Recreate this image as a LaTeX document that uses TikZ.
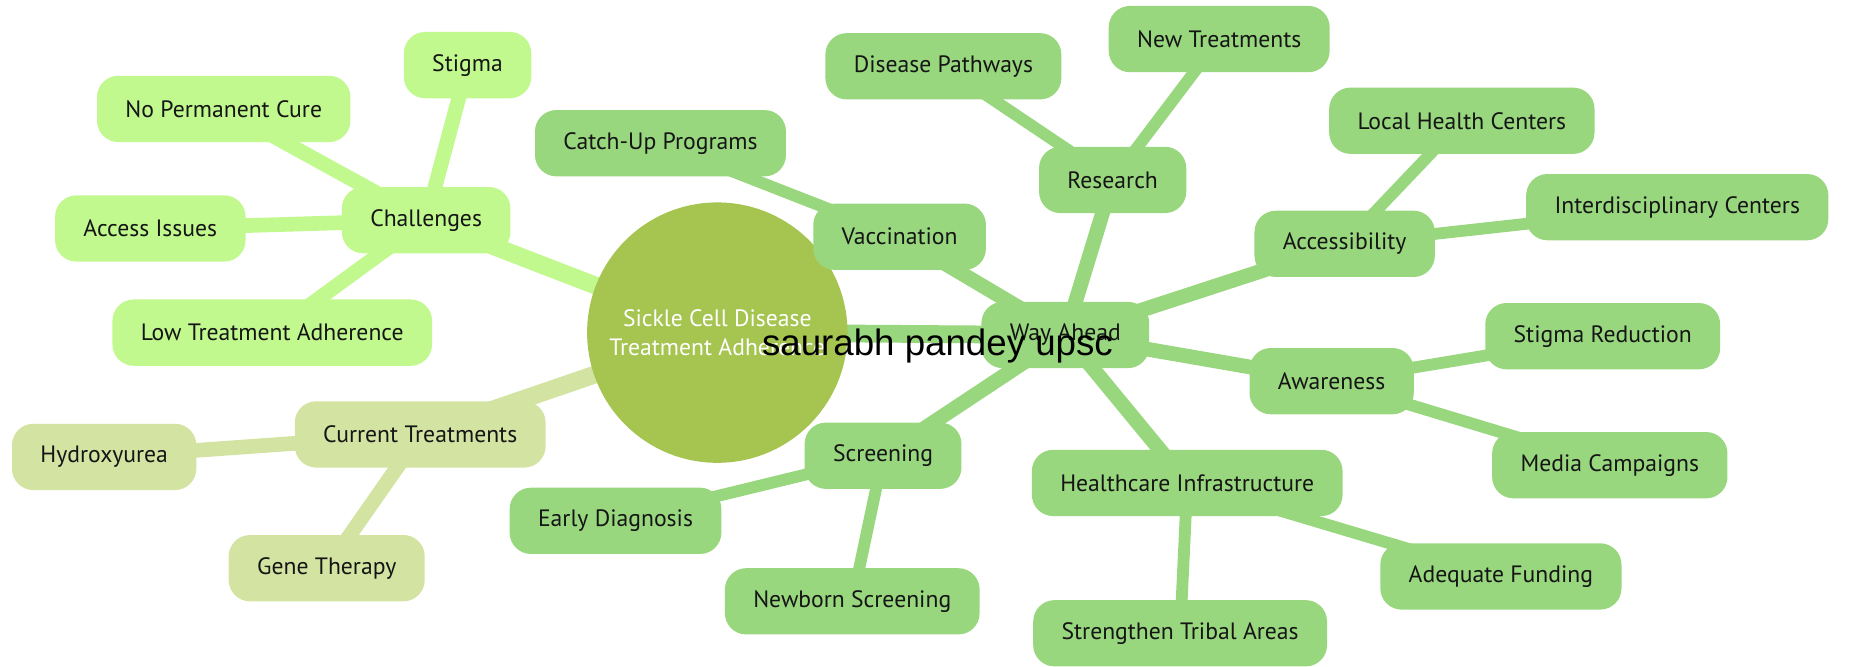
\documentclass[tikz,border=0pt]{standalone}
\usepackage{fontspec}
\setmainfont{PT Sans}
\newfontfamily\wmfont{Liberation Sans}
\usetikzlibrary{backgrounds}
\definecolor{chalc}{HTML}{C1F98F}
\definecolor{curc}{HTML}{D3E3A2}
\definecolor{wayc}{HTML}{98D77E}
\definecolor{rootc}{HTML}{A6C450}
\definecolor{txtc}{HTML}{151515}
\tikzset{
  box/.style={rounded corners=9pt, minimum height=28pt, inner xsep=12pt, inner ysep=0pt,
    font=\fontsize{10}{12}\selectfont, text=txtc},
  rootnode/.style={circle, fill=rootc, minimum size=110pt, inner sep=0pt, align=center,
    text=white, font=\fontsize{10}{12.5}\selectfont},
  e0/.style={line width=7.5pt},
  e1/.style={line width=6.2pt},
  e2/.style={line width=5pt},
}
\begin{document}
\begin{tikzpicture}[x=0.5pt,y=-0.5pt]
\useasboundingbox (0,0) rectangle (1568,563);
% root
\node[rootnode] (root) at (606,281) {Sickle Cell Disease\\Treatment Adherence};
% Challenges
\node[box, fill=chalc] (chal) at (360,186) {Challenges};
\node[box, fill=chalc] (stig) at (395,55) {Stigma};
\node[box, fill=chalc] (nopc) at (189,92) {No Permanent Cure};
\node[box, fill=chalc] (acci) at (127,193) {Access Issues};
\node[box, fill=chalc] (lowt) at (230,281) {Low Treatment Adherence};
% Current treatments
\node[box, fill=curc] (curt) at (355,367) {Current Treatments};
\node[box, fill=curc] (hydr) at (88,386) {Hydroxyurea};
\node[box, fill=curc] (gene) at (276,480) {Gene Therapy};
% Way ahead
\node[box, fill=wayc] (way) at (900,283) {Way Ahead};
\node[box, fill=wayc] (vacc) at (760,200) {Vaccination};
\node[box, fill=wayc] (catc) at (558,121) {Catch-Up Programs};
\node[box, fill=wayc] (rese) at (940,152) {Research};
\node[box, fill=wayc] (dpat) at (797,56) {Disease Pathways};
\node[box, fill=wayc] (newt) at (1030,33) {New Treatments};
\node[box, fill=wayc] (accs) at (1136,206) {Accessibility};
\node[box, fill=wayc] (lhc) at (1235,102) {Local Health Centers};
\node[box, fill=wayc] (intc) at (1417,175) {Interdisciplinary Centers};
\node[box, fill=wayc] (awar) at (1125,322) {Awareness};
\node[box, fill=wayc] (stre) at (1354,284) {Stigma Reduction};
\node[box, fill=wayc] (medi) at (1360,393) {Media Campaigns};
\node[box, fill=wayc] (hcin) at (1003,408) {Healthcare Infrastructure};
\node[box, fill=wayc] (fund) at (1268,487) {Adequate Funding};
\node[box, fill=wayc] (trib) at (997,535) {Strengthen Tribal Areas};
\node[box, fill=wayc] (scrn) at (746,385) {Screening};
\node[box, fill=wayc] (earl) at (520,440) {Early Diagnosis};
\node[box, fill=wayc] (newb) at (720,508) {Newborn Screening};
% edges
\begin{pgfonlayer}{background}
\draw[e0, chalc] (root.center) -- (chal.center);
\draw[e0, curc] (root.center) -- (curt.center);
\draw[e0, wayc] (root.center) -- (way.center);
\foreach \c in {stig,nopc,acci,lowt} \draw[e1, chalc] (chal.center) -- (\c.center);
\foreach \c in {hydr,gene} \draw[e1, curc] (curt.center) -- (\c.center);
\foreach \c in {vacc,rese,accs,awar,hcin,scrn} \draw[e1, wayc] (way.center) -- (\c.center);
\draw[e2, wayc] (vacc.center) -- (catc.center);
\draw[e2, wayc] (rese.center) -- (dpat.center);
\draw[e2, wayc] (rese.center) -- (newt.center);
\draw[e2, wayc] (accs.center) -- (lhc.center);
\draw[e2, wayc] (accs.center) -- (intc.center);
\draw[e2, wayc] (awar.center) -- (stre.center);
\draw[e2, wayc] (awar.center) -- (medi.center);
\draw[e2, wayc] (hcin.center) -- (fund.center);
\draw[e2, wayc] (hcin.center) -- (trib.center);
\draw[e2, wayc] (scrn.center) -- (earl.center);
\draw[e2, wayc] (scrn.center) -- (newb.center);
\end{pgfonlayer}
% watermark
\node[anchor=base, inner sep=0pt, font=\wmfont\fontsize{15.5}{18}\selectfont, text=black] (wm) at (792,300) {saurabh pandey upsc};
\end{tikzpicture}
\end{document}
